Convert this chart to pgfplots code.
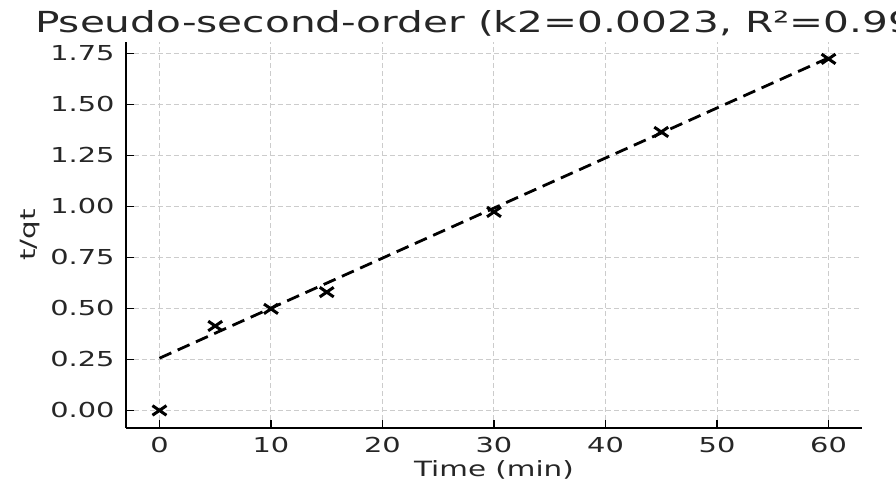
\documentclass[border=0pt]{standalone}
\usepackage{fontspec}
\setmainfont{DejaVu Sans}[FakeStretch=1.4]
\usepackage{pgfplots}
\pgfplotsset{compat=1.18}

\begin{document}
\begin{tikzpicture}
\begin{axis}[
    width=368pt, height=193pt, scale only axis,
    xmin=-3, xmax=63, ymin=-0.086, ymax=1.806,
    axis x line*=bottom, axis y line*=left,
    axis line style={-, line width=1pt, black},
    xtick={0,10,20,30,40,50,60},
    ytick={0,0.25,0.5,0.75,1,1.25,1.5,1.75},
    tick align=inside, major tick length=4pt,
    tick style={line width=0.8pt, black},
    grid=major,
    major grid style={gray!40, line width=0.5pt, dash pattern=on 2.5pt off 1.5pt},
    /pgf/number format/assume math mode=true,
    tick label style={font=\fontsize{10.3}{12}\selectfont, text=black!85},
    xticklabel style={inner sep=0pt, yshift=-4.5pt},
    yticklabel style={inner sep=0pt, xshift=-5.5pt,
        /pgf/number format/.cd, fixed, fixed zerofill, precision=2},
    label style={font=\fontsize{10.5}{12}\selectfont, text=black!85},
    xlabel={Time (min)},
    xlabel style={at={(axis description cs:0.5,0)}, anchor=base, yshift=-24.5pt},
    ylabel={t/qt},
    ylabel style={at={(axis description cs:-0.1236,0.5)}, anchor=base},
    title={Pseudo-second-order (k2=0.0023, R²=0.996)},
    title style={font=\fontsize{14.5}{16}\selectfont, text=black!85,
        at={(axis description cs:0,1)},
        anchor=base west, xshift=-49pt, yshift=-1.5pt},
]
\addplot[only marks, mark=x, mark size=3.4pt, line width=1.5pt, black,
    mark options={xscale=1.45}]
    coordinates {(0,0) (5,0.414) (10,0.498) (15,0.58) (30,0.973) (45,1.365) (60,1.723)};
\addplot[black, line width=1.4pt, dash pattern=on 6.5pt off 3.5pt]
    coordinates {(0,0.256) (60,1.728)};
\end{axis}
\pgfresetboundingbox
\path[use as bounding box] (-63pt,-29pt) rectangle (385pt,214pt);
\end{tikzpicture}
\end{document}
